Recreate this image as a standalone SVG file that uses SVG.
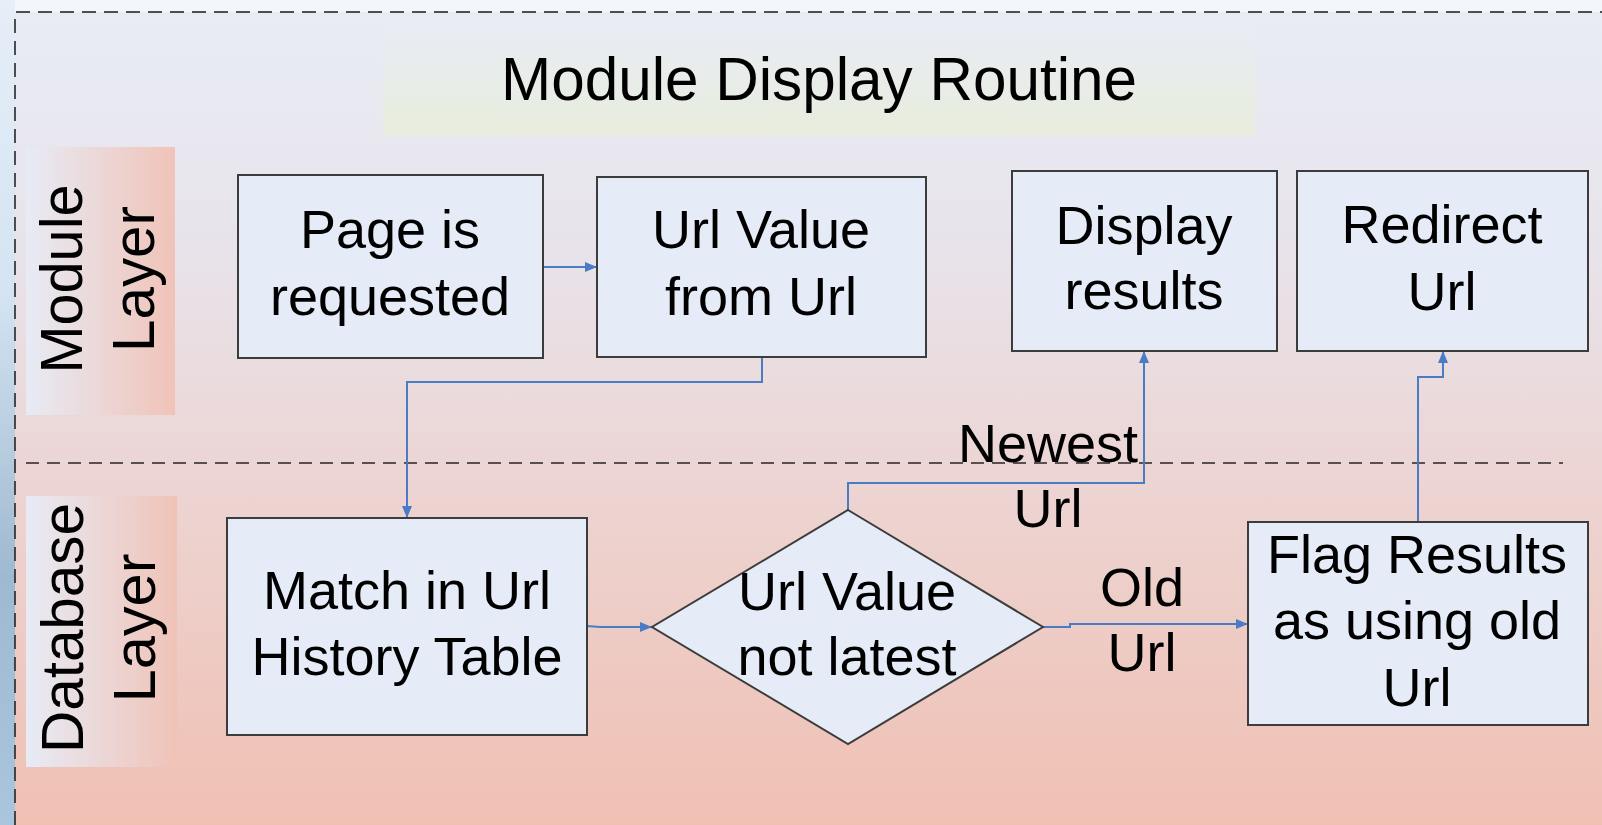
<svg xmlns="http://www.w3.org/2000/svg" width="1602" height="825" viewBox="0 0 1602 825">
<defs>
<linearGradient id="bg" x1="0" y1="0" x2="0" y2="1">
<stop offset="0" stop-color="#e8ecf5"/>
<stop offset="0.3" stop-color="#e8e3ea"/>
<stop offset="0.55" stop-color="#ecd6d5"/>
<stop offset="1" stop-color="#f0c0b3"/>
</linearGradient>
<linearGradient id="outer" x1="0" y1="0" x2="0" y2="1">
<stop offset="0" stop-color="#e6eef7"/>
<stop offset="0.35" stop-color="#d4e4f2"/>
<stop offset="0.7" stop-color="#9fb9d0"/>
<stop offset="1" stop-color="#a9c6de"/>
</linearGradient>
<linearGradient id="lane" x1="0" y1="0" x2="1" y2="0">
<stop offset="0" stop-color="#e7ebf5"/>
<stop offset="1" stop-color="#f0c3b8"/>
</linearGradient>
<linearGradient id="title" x1="0" y1="0" x2="0" y2="1">
<stop offset="0" stop-color="#e8ecf4"/>
<stop offset="1" stop-color="#e8eddc"/>
</linearGradient>
<marker id="arr" viewBox="0 0 12 10" refX="12" refY="5" markerWidth="12" markerHeight="10" markerUnits="userSpaceOnUse" orient="auto">
<path d="M0,0 L12,5 L0,10 Z" fill="#4a7cc6"/>
</marker>
</defs>
<style>
.box{fill:#e6ecf7;stroke:#3c3c3c;stroke-width:2}
.t{font-family:"Liberation Sans",Arial,sans-serif;font-size:54px;fill:#000;text-anchor:middle}
.lt{font-family:"Liberation Sans",Arial,sans-serif;font-size:60px;fill:#000;text-anchor:middle}
.conn{fill:none;stroke:#4a7cc6;stroke-width:2;marker-end:url(#arr)}
</style>
<rect x="0" y="0" width="1602" height="825" fill="url(#outer)"/>
<rect x="15" y="0" width="1587" height="12" fill="#f3f6fa"/>
<rect x="15" y="12" width="1587" height="813" fill="url(#bg)"/>
<path d="M15,825 V12 H1602" fill="none" stroke="#1a1a1a" stroke-width="1.5" stroke-dasharray="14 8"/>
<line x1="26" y1="463" x2="1563" y2="463" stroke="#5a5050" stroke-width="2" stroke-dasharray="13 8"/>

<g id="title-box">
<rect x="383" y="31" width="872" height="104" fill="url(#title)"/>
<text x="819" y="100" font-family="Liberation Sans, Arial, sans-serif" font-size="62" text-anchor="middle" textLength="636" lengthAdjust="spacingAndGlyphs">Module Display Routine</text>
</g>

<g id="lane-module">
<rect x="26" y="147" width="149" height="268" fill="url(#lane)"/>
<text class="lt" transform="translate(82,279) rotate(-90)" textLength="189" lengthAdjust="spacingAndGlyphs">Module</text>
<text class="lt" transform="translate(154,279) rotate(-90)" textLength="146" lengthAdjust="spacingAndGlyphs">Layer</text>
</g>
<g id="lane-database">
<rect x="26" y="496" width="151" height="271" fill="url(#lane)"/>
<text class="lt" transform="translate(83,628) rotate(-90)" textLength="250" lengthAdjust="spacingAndGlyphs">Database</text>
<text class="lt" transform="translate(155,628) rotate(-90)" textLength="149" lengthAdjust="spacingAndGlyphs">Layer</text>
</g>

<g id="connectors">
<path class="conn" d="M543,267 H597"/>
<path class="conn" d="M762,357 V382 H407 V518"/>
<path class="conn" d="M587,626 L600,627 H652"/>
<path class="conn" d="M848,510 V483 H1144 V351"/>
<path class="conn" d="M1043,627 H1070 V624 H1248"/>
<path class="conn" d="M1418,522 V377 H1443 V351"/>
</g>

<g id="node-page-requested">
<rect class="box" x="238" y="175" width="305" height="183"/>
<text class="t" x="390" y="248">Page is</text>
<text class="t" x="390" y="315">requested</text>
</g>
<g id="node-url-value">
<rect class="box" x="597" y="177" width="329" height="180"/>
<text class="t" x="761" y="248">Url Value</text>
<text class="t" x="761" y="315">from Url</text>
</g>
<g id="node-display-results">
<rect class="box" x="1012" y="171" width="265" height="180"/>
<text class="t" x="1144" y="244">Display</text>
<text class="t" x="1144" y="309">results</text>
</g>
<g id="node-redirect-url">
<rect class="box" x="1297" y="171" width="291" height="180"/>
<text class="t" x="1442" y="243">Redirect</text>
<text class="t" x="1442" y="310">Url</text>
</g>
<g id="node-match">
<rect class="box" x="227" y="518" width="360" height="217"/>
<text class="t" x="407" y="609">Match in Url</text>
<text class="t" x="407" y="675">History Table</text>
</g>
<g id="node-decision">
<polygon class="box" points="848,510 1043,627 848,744 652,627" stroke-width="1.5"/>
<text class="t" x="847" y="610">Url Value</text>
<text class="t" x="847" y="675">not latest</text>
</g>
<g id="node-flag">
<rect class="box" x="1248" y="522" width="340" height="203"/>
<text class="t" x="1417" y="573">Flag Results</text>
<text class="t" x="1417" y="639">as using old</text>
<text class="t" x="1417" y="706">Url</text>
</g>

<g id="labels">
<text class="t" x="1048" y="462">Newest</text>
<text class="t" x="1048" y="527">Url</text>
<text class="t" x="1142" y="606">Old</text>
<text class="t" x="1142" y="671">Url</text>
</g>
</svg>
